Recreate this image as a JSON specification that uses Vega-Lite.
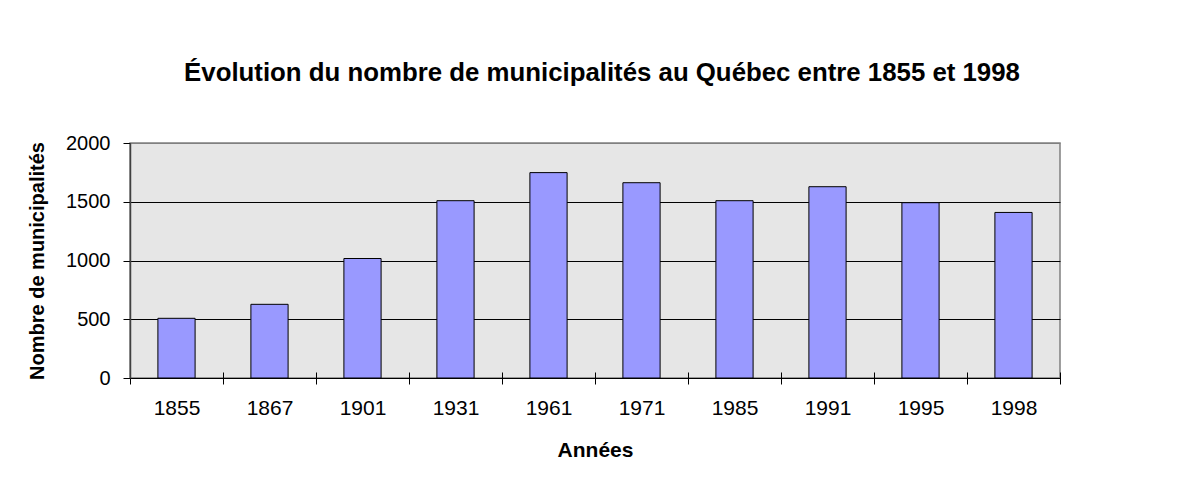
{
  "$schema": "https://vega.github.io/schema/vega-lite/v6.json",
  "width": 930,
  "height": 235,
  "autosize": {"type": "none"},
  "padding": {"left": 130, "top": 143, "right": 137, "bottom": 126},
  "background": "white",
  "title": {
    "text": "Évolution du nombre de municipalités au Québec entre 1855 et 1998",
    "font": "Liberation Sans",
    "fontSize": 25.8,
    "fontWeight": "bold",
    "color": "black",
    "anchor": "middle",
    "frame": "group",
    "dx": 7,
    "offset": 46
  },
  "data": {
    "values": [
      {"annee": "1855", "nombre": 508},
      {"annee": "1867", "nombre": 627},
      {"annee": "1901", "nombre": 1017},
      {"annee": "1931", "nombre": 1509},
      {"annee": "1961", "nombre": 1748},
      {"annee": "1971", "nombre": 1662},
      {"annee": "1985", "nombre": 1509},
      {"annee": "1991", "nombre": 1628},
      {"annee": "1995", "nombre": 1492},
      {"annee": "1998", "nombre": 1409}
    ]
  },
  "mark": {"type": "bar", "fill": "#9999ff", "stroke": "black", "strokeWidth": 1, "width": {"band": 0.4}},
  "encoding": {
    "x": {
      "field": "annee",
      "type": "ordinal",
      "sort": null,
      "scale": {"paddingInner": 0, "paddingOuter": 0},
      "axis": {
        "title": "Années",
        "titleFont": "Liberation Sans",
        "titleFontSize": 21,
        "titleFontWeight": "bold",
        "titleColor": "black",
        "titlePadding": 21,
        "labelFont": "Liberation Sans",
        "labelFontSize": 21,
        "labelColor": "black",
        "labelAngle": 0,
        "labelPadding": 13,
        "tickBand": "extent",
        "tickSize": 12,
        "tickColor": "black",
        "tickWidth": 1,
        "offset": -6,
        "domain": false,
        "grid": false
      }
    },
    "y": {
      "field": "nombre",
      "type": "quantitative",
      "scale": {"domain": [0, 2000], "nice": false},
      "axis": {
        "title": "Nombre de municipalités",
        "titleFont": "Liberation Sans",
        "titleFontSize": 20,
        "titleFontWeight": "bold",
        "titleColor": "black",
        "titlePadding": 18,
        "values": [0, 500, 1000, 1500, 2000],
        "format": "d",
        "labelFont": "Liberation Sans",
        "labelFontSize": 20,
        "labelColor": "black",
        "labelPadding": 13,
        "tickSize": 7,
        "tickColor": "black",
        "domainColor": "#404040",
        "domainWidth": 1.5,
        "grid": true,
        "gridColor": {"condition": {"test": "datum.value === 2000", "value": "#808080"}, "value": "black"},
        "gridWidth": 1,
        "gridOpacity": 1
      }
    }
  },
  "config": {
    "view": {"fill": "#e6e6e6", "stroke": "#808080", "strokeWidth": 1.5}
  }
}
